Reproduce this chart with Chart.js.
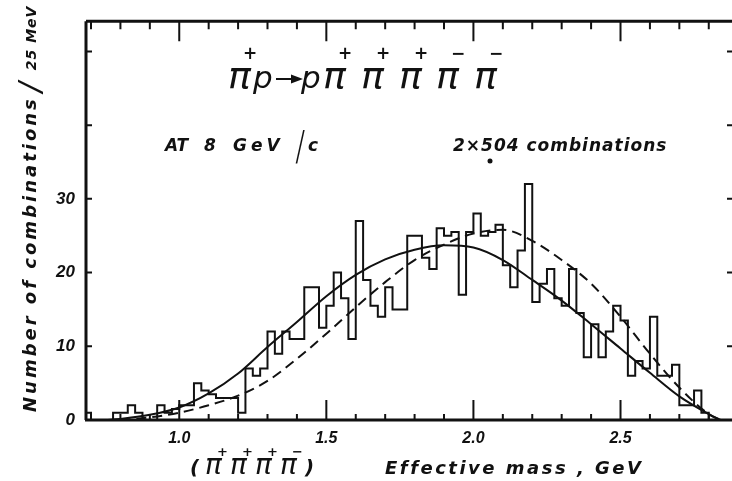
<!DOCTYPE html>
<html>
<head>
<meta charset="utf-8">
<script src="https://cdn.jsdelivr.net/npm/chart.js@4.4.0/dist/chart.umd.min.js"></script>
<style>
  html, body { margin: 0; padding: 0; background: #fff; }
  #wrap { width: 732px; height: 481px; }
</style>
</head>
<body>
<div id="wrap"><canvas id="myChart" width="732" height="481"></canvas></div>
<script>
// left edge of each 25 MeV bin (GeV) and the counts
var binEdges = [0.675, 0.700, 0.725, 0.750, 0.775, 0.800, 0.825, 0.850, 0.875, 0.900,
                0.925, 0.950, 0.975, 1.000, 1.025, 1.050, 1.075, 1.100, 1.125, 1.150,
                1.175, 1.200, 1.225, 1.250, 1.275, 1.300, 1.325, 1.350, 1.375, 1.400,
                1.425, 1.450, 1.475, 1.500, 1.525, 1.550, 1.575, 1.600, 1.625, 1.650,
                1.675, 1.700, 1.725, 1.750, 1.775, 1.800, 1.825, 1.850, 1.875, 1.900,
                1.925, 1.950, 1.975, 2.000, 2.025, 2.050, 2.075, 2.100, 2.125, 2.150,
                2.175, 2.200, 2.225, 2.250, 2.275, 2.300, 2.325, 2.350, 2.375, 2.400,
                2.425, 2.450, 2.475, 2.500, 2.525, 2.550, 2.575, 2.600, 2.625, 2.650,
                2.675, 2.700, 2.725, 2.750, 2.775, 2.800, 2.825];
var counts   = [1, 0, 0, 0, 1, 1, 2, 1, 0, 0,
                2, 1, 1.5, 2, 2, 5, 4, 3.5, 3, 3,
                3, 1, 7, 6, 7, 12, 9, 12, 11, 11,
                18, 18, 12.5, 15.5, 20, 16.5, 11, 27, 19, 15.5,
                14, 18, 15, 15, 25, 25, 22, 20.5, 26, 25,
                25.5, 17, 25.5, 28, 25, 25.5, 26.5, 21, 18, 23,
                32, 16, 18.5, 20.5, 16.5, 15.5, 20.5, 14.5, 8.5, 13,
                8.5, 12, 15.5, 13.5, 6, 8, 7, 14, 6, 6,
                7.5, 2, 2, 4, 1, 0, 0];

// solid curve
var solidMass = [0.75, 0.8, 0.9, 1.0, 1.1, 1.2, 1.3, 1.4, 1.5, 1.6, 1.7, 1.8,
                 1.9, 2.0, 2.1, 2.2, 2.3, 2.4, 2.5, 2.6, 2.7, 2.8, 2.84];
var solidFit  = [0, 0.15, 0.7, 1.7, 3.6, 6.3, 9.9, 13.3, 16.8, 19.7, 21.8, 23.1,
                 23.7, 23.4, 21.7, 19.0, 16.2, 13.0, 9.7, 6.4, 3.2, 0.8, 0];

// dashed curve
var dashMass = [0.8, 0.9, 1.0, 1.1, 1.2, 1.3, 1.4, 1.5, 1.6, 1.7, 1.8, 1.9,
                2.0, 2.1, 2.2, 2.3, 2.4, 2.5, 2.6, 2.7, 2.8, 2.84];
var dashFit  = [0, 0.35, 1.0, 2.0, 3.3, 5.3, 8.3, 11.7, 15.3, 18.7, 21.7, 23.8,
                25.3, 25.8, 24.3, 21.7, 18.5, 14.0, 9.0, 4.4, 0.8, 0];

var xTickLabels = ['1.0', '1.5', '2.0', '2.5'];
var yTickLabels = ['0', '10', '20', '30'];

var ink = '#111';

function pairs(xs, ys) {
  return xs.map(function(x, i) { return { x: x, y: ys[i] }; });
}

function isMajor(v) {
  return Math.abs(v * 2 - Math.round(v * 2)) < 1e-6;
}

var decor = {
  id: 'decor',
  afterDraw: function(chart) {
    var c = chart.ctx, a = chart.chartArea;
    var xs = chart.scales.x, ys = chart.scales.y;
    c.save();
    c.strokeStyle = ink;
    c.fillStyle = ink;

    // frame
    c.lineWidth = 3;
    c.beginPath();
    c.moveTo(a.left, a.top); c.lineTo(a.right + 2, a.top);
    c.moveTo(a.left, a.top); c.lineTo(a.left, a.bottom);
    c.moveTo(a.left - 1, a.bottom); c.lineTo(a.right + 2, a.bottom);
    c.stroke();

    // inward ticks
    c.lineWidth = 2;
    c.beginPath();
    xs.ticks.forEach(function(t) {
      var px = xs.getPixelForValue(t.value);
      var big = isMajor(t.value);
      c.moveTo(px, a.bottom); c.lineTo(px, a.bottom - (big ? 20 : 6));
      c.moveTo(px, a.top); c.lineTo(px, a.top + (big ? 20 : 8));
    });
    ys.ticks.forEach(function(t) {
      var py = ys.getPixelForValue(t.value);
      c.moveTo(a.left, py); c.lineTo(a.left + 6, py);
      c.moveTo(a.right, py); c.lineTo(a.right - 5, py);
    });
    c.stroke();

    c.textAlign = 'left';
    c.textBaseline = 'alphabetic';

    // reaction
    var piFont = 'italic 38px "DejaVu Sans"';
    var pFont = 'italic 31px "DejaVu Sans"';
    var supFont = 'bold 17px "DejaVu Sans"';
    var pis = [[228, '+'], [323, '+'], [361, '+'], [399, '+'], [436, '−'], [474, '−']];
    pis.forEach(function(p) {
      c.font = piFont;
      c.fillText('π', p[0], 88);
      c.font = supFont;
      c.fillText(p[1], p[0] + 15, 59);
    });
    c.font = pFont;
    c.fillText('p', 253, 88);
    c.fillText('p', 301, 88);
    // reaction arrow
    c.lineWidth = 2;
    c.beginPath();
    c.moveTo(276, 79); c.lineTo(293, 79);
    c.stroke();
    c.beginPath();
    c.moveTo(291, 74.5); c.lineTo(303, 79); c.lineTo(291, 83.5);
    c.closePath();
    c.fill();

    // energy and statistics
    c.font = 'italic bold 17px "DejaVu Sans"';
    c.fillText('AT', 165, 151);
    c.fillText('8', 204, 151);
    c.letterSpacing = '4px';
    c.fillText('GeV', 233, 151);
    c.letterSpacing = '0px';
    c.save();
    c.translate(297, 160);
    c.scale(0.45, 1);
    c.font = 'italic 40px "DejaVu Sans"';
    c.fillText('/', 0, 0);
    c.restore();
    c.font = 'italic bold 17px "DejaVu Sans"';
    c.fillText('c', 308, 151);

    c.letterSpacing = '1px';
    c.fillText('2×504 combinations', 453, 151);
    c.letterSpacing = '0px';
    c.beginPath();
    c.arc(490, 161, 2.5, 0, Math.PI * 2);
    c.fill();

    // x title
    c.font = 'italic bold 20px "DejaVu Sans"';
    c.fillText('(', 190, 474);
    c.fillText(')', 305, 474);
    var xpis = [[205, '+'], [230, '+'], [255, '+'], [280, '−']];
    xpis.forEach(function(p) {
      c.font = 'italic 28px "DejaVu Sans"';
      c.fillText('π', p[0], 474);
      c.font = 'bold 13px "DejaVu Sans"';
      c.fillText(p[1], p[0] + 12, 456);
    });
    c.font = 'italic bold 18px "DejaVu Sans"';
    c.letterSpacing = '2.5px';
    c.fillText('Effective mass , GeV', 385, 474);

    // y title
    c.save();
    c.translate(36, 412);
    c.rotate(-Math.PI / 2);
    c.font = 'italic bold 18px "DejaVu Sans"';
    c.letterSpacing = '3px';
    c.fillText('Number of combinations', 0, 0);
    var w = c.measureText('Number of combinations').width;
    c.letterSpacing = '0px';
    c.font = 'italic 30px "DejaVu Sans"';
    c.fillText('/', w + 4, 4);
    c.font = 'italic bold 14px "DejaVu Sans"';
    c.letterSpacing = '1px';
    c.fillText('25 MeV', w + 26, 0);
    c.restore();

    c.restore();
  }
};

var ctx = document.getElementById('myChart');

new Chart(ctx, {
  type: 'line',
  data: {
    datasets: [
      {
        data: pairs(binEdges, counts),
        stepped: 'before',
        borderColor: ink,
        borderWidth: 2,
        pointRadius: 0,
        fill: false
      },
      {
        data: pairs(solidMass, solidFit),
        borderColor: ink,
        borderWidth: 2,
        pointRadius: 0,
        cubicInterpolationMode: 'monotone',
        fill: false
      },
      {
        data: pairs(dashMass, dashFit),
        borderColor: ink,
        borderWidth: 2,
        borderDash: [10, 6],
        pointRadius: 0,
        cubicInterpolationMode: 'monotone',
        fill: false
      }
    ]
  },
  options: {
    responsive: false,
    animation: false,
    devicePixelRatio: 1,
    layout: { padding: { left: 0, right: 0, top: 14, bottom: 0 } },
    plugins: { legend: { display: false }, tooltip: { enabled: false } },
    scales: {
      x: {
        type: 'linear',
        min: 0.683,
        max: 2.879,
        grid: { display: false, drawTicks: false },
        border: { display: false },
        afterFit: function(s) { s.height = 61; },
        ticks: {
          stepSize: 0.1,
          includeBounds: false,
          autoSkip: false,
          maxRotation: 0,
          padding: 9,
          color: ink,
          font: { family: 'Liberation Sans', size: 16, style: 'italic', weight: 'bold' },
          callback: function(v) {
            var s = v.toFixed(1);
            return xTickLabels.indexOf(s) >= 0 ? s : '';
          }
        }
      },
      y: {
        min: 0,
        max: 54.1,
        grid: { display: false, drawTicks: false },
        border: { display: false },
        afterFit: function(s) { s.width = 86; },
        ticks: {
          stepSize: 10,
          includeBounds: false,
          autoSkip: false,
          padding: 11,
          color: ink,
          font: { family: 'Liberation Sans', size: 17, style: 'italic', weight: 'bold' },
          callback: function(v) {
            var s = String(Math.round(v));
            return yTickLabels.indexOf(s) >= 0 ? s : '';
          }
        }
      }
    }
  },
  plugins: [decor]
});
</script>
</body>
</html>
